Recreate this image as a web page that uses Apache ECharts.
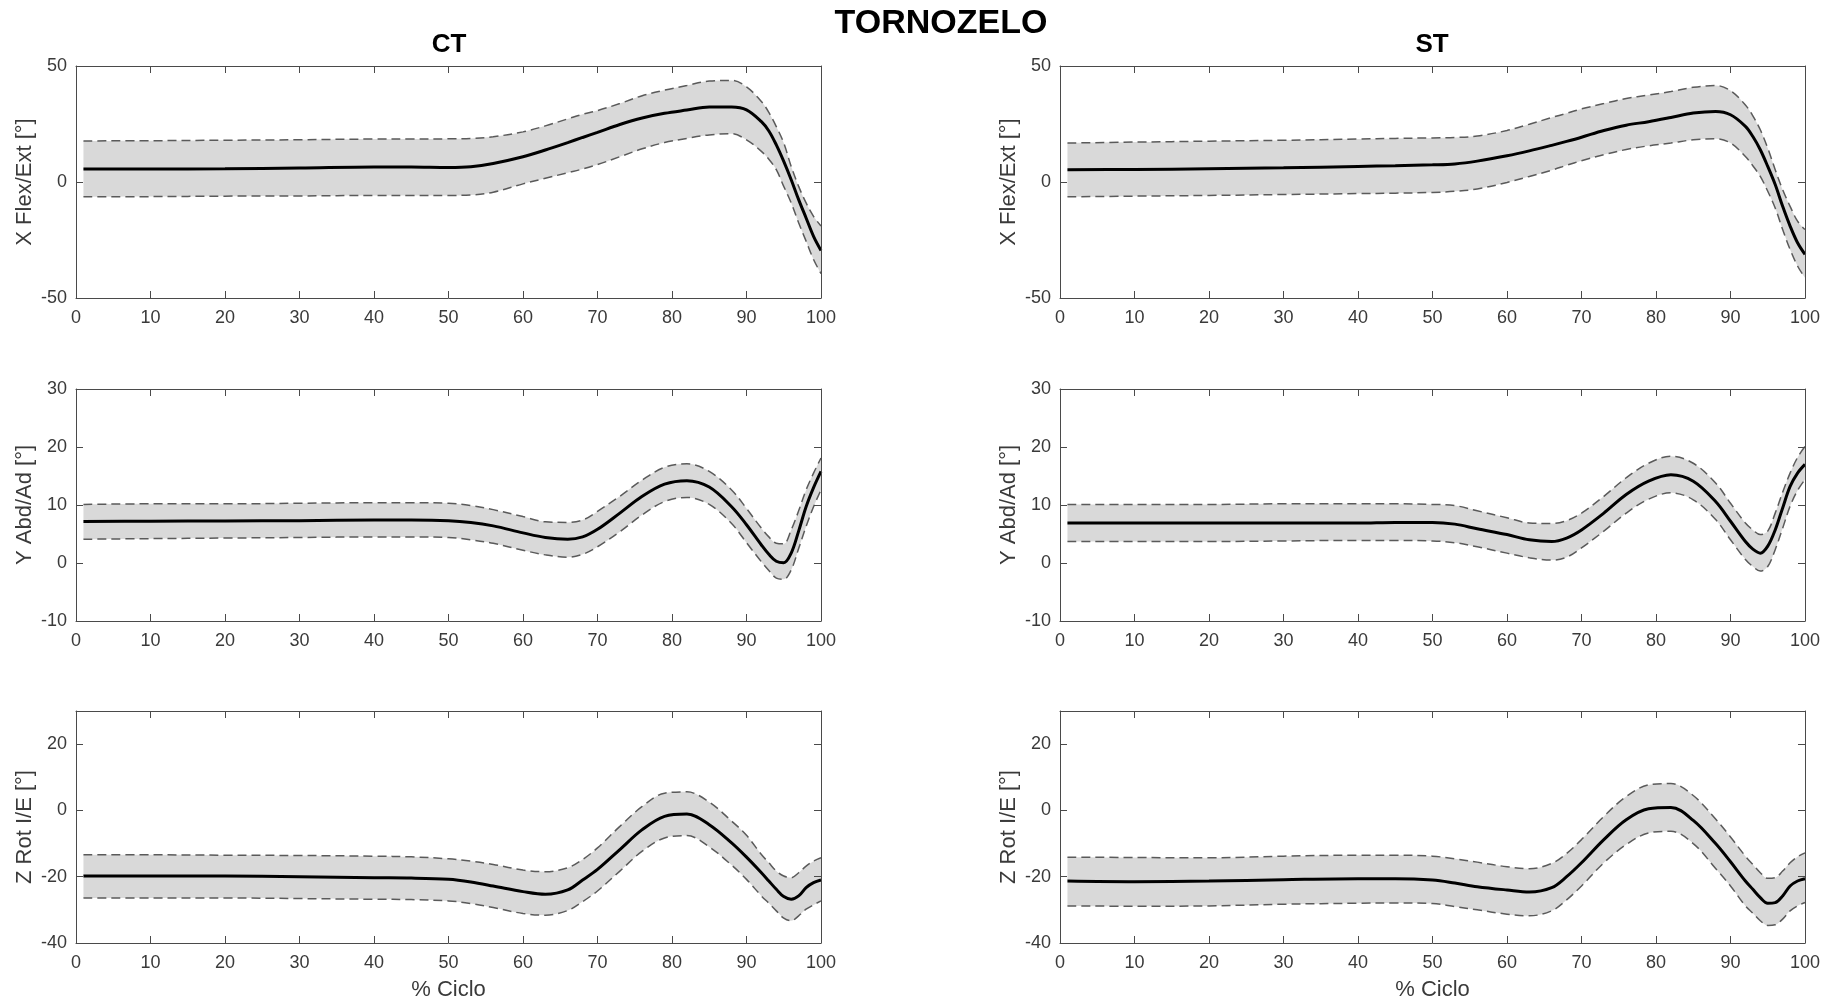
<!DOCTYPE html>
<html><head><meta charset="utf-8">
<script src="https://cdn.jsdelivr.net/npm/echarts@6/dist/echarts.min.js"></script>
<style>html,body{margin:0;padding:0;background:#fff}#c{width:1833px;height:1005px}</style>
</head><body><div id="c"></div>
<script>
// % gait cycle sample positions (shared by all panels)
const X = [1,10,20,30,40,45,50,53,56,60,63,66,68,70,73,76,79,82,85,88,90,92,93,94,95,96,97,98,99,100];

// CT - X Flex/Ext
const ctFlexMean = [5.6,5.6,5.7,6.0,6.5,6.5,6.3,6.6,8.0,10.9,13.8,17.0,19.2,21.4,24.8,27.6,29.6,31.0,32.3,32.3,31.1,26.0,22.0,16.0,8.9,1.0,-7.6,-15.5,-23.4,-29.5];
const ctFlexUp   = [17.7,17.8,18.0,18.2,18.5,18.5,18.6,18.8,19.5,21.6,24.2,27.2,29.2,30.8,33.8,37.2,39.6,41.6,43.5,43.8,41.0,34.7,30.0,23.9,16.8,6.7,-1.9,-9.0,-14.8,-19.0];
const ctFlexLo   = [-6.4,-6.3,-6.1,-6.0,-5.8,-5.8,-5.8,-5.6,-4.4,-0.8,1.6,4.0,5.6,7.5,10.9,14.3,17.0,18.8,20.3,20.8,18.2,13.2,9.8,5.3,-1.9,-9.0,-17.6,-25.5,-33.4,-39.5];
// ST - X Flex/Ext
const stFlexMean = [5.3,5.4,5.7,6.1,6.7,7.0,7.4,7.8,9.0,11.3,13.4,15.8,17.5,19.3,22.2,24.5,26.0,27.8,29.7,30.4,29.0,24.0,19.6,13.9,6.7,-1.1,-10.5,-19.0,-26.2,-31.2];
const stFlexUp   = [16.8,17.2,17.6,18.0,18.5,18.8,19.0,19.2,19.8,22.2,24.9,27.8,29.6,31.5,33.8,36.0,37.5,39.0,40.8,41.6,39.4,33.2,28.5,22.5,14.6,5.3,-3.3,-10.5,-16.9,-20.5];
const stFlexLo   = [-6.4,-6.1,-5.8,-5.4,-5.0,-4.8,-4.5,-4.0,-3.0,-0.2,2.4,5.1,7.2,9.2,11.8,14.0,15.6,16.8,18.2,18.6,16.8,11.0,7.0,2.4,-4.0,-11.2,-20.5,-29.1,-36.2,-41.3];
// CT - Y Abd/Ad
const ctAbdMean = [7.15,7.2,7.25,7.3,7.4,7.4,7.3,7.0,6.4,5.2,4.4,4.1,4.5,5.8,8.6,11.5,13.6,14.2,13.1,9.7,6.6,3.1,1.5,0.3,0.05,1.7,5.5,9.7,13.0,15.8];
const ctAbdUp   = [10.1,10.2,10.2,10.3,10.4,10.4,10.3,9.9,9.2,8.0,7.1,7.0,7.4,8.9,11.5,14.3,16.5,17.1,15.8,12.6,9.4,6.0,4.5,3.4,3.3,5.7,9.0,12.6,15.5,18.1];
const ctAbdLo   = [4.1,4.2,4.3,4.4,4.5,4.5,4.4,4.0,3.4,2.2,1.4,1.0,1.5,2.8,5.4,8.3,10.6,11.3,10.1,6.8,3.5,0.2,-1.3,-2.6,-2.8,-1.2,2.5,6.3,9.7,12.6];
// ST - Y Abd/Ad
const stAbdMean = [6.9,6.9,6.9,6.9,6.9,7.0,7.0,6.7,5.9,4.9,4.0,3.7,4.3,5.7,8.6,11.8,14.1,15.2,14.1,10.6,7.2,3.7,2.4,1.7,2.9,5.7,9.5,13.2,15.5,17.0];
const stAbdUp   = [10.1,10.1,10.1,10.2,10.2,10.2,10.1,9.9,9.0,7.8,6.9,6.8,7.3,8.6,11.5,14.7,17.2,18.4,17.2,13.8,10.3,6.9,5.7,4.9,5.5,8.6,12.2,15.5,18.2,20.1];
const stAbdLo   = [3.7,3.7,3.7,3.8,3.9,3.9,3.8,3.5,2.8,1.7,0.9,0.5,1.0,2.6,5.5,8.6,11.0,12.1,10.9,7.5,4.0,0.6,-0.6,-1.4,-0.6,2.3,6.0,9.8,12.5,14.4];
// CT - Z Rot I/E
const ctRotMean = [-19.8,-19.8,-19.8,-20.0,-20.3,-20.4,-20.8,-21.6,-22.8,-24.5,-25.3,-24.0,-21.0,-17.8,-11.8,-5.8,-1.8,-1.1,-4.3,-9.8,-14.1,-18.8,-21.3,-23.8,-26.0,-26.8,-25.8,-23.3,-21.8,-21.0];
const ctRotUp   = [-13.4,-13.4,-13.5,-13.6,-13.8,-14.0,-14.6,-15.3,-16.3,-18.0,-18.5,-17.3,-14.8,-11.3,-4.8,1.2,5.2,5.6,2.5,-3.2,-7.5,-13.3,-15.8,-18.3,-19.8,-20.3,-18.8,-16.8,-15.3,-14.3];
const ctRotLo   = [-26.4,-26.4,-26.4,-26.6,-26.8,-26.9,-27.3,-28.1,-29.3,-31.1,-31.6,-30.2,-27.5,-24.3,-18.3,-12.3,-8.3,-7.6,-11.0,-16.5,-20.8,-25.8,-28.0,-30.3,-32.5,-33.3,-31.8,-29.8,-28.5,-27.3];
// ST - Z Rot I/E
const stRotMean = [-21.3,-21.5,-21.3,-20.9,-20.6,-20.6,-21.0,-21.9,-23.0,-24.0,-24.6,-23.3,-20.0,-15.8,-8.8,-2.8,0.5,0.9,-3.0,-10.0,-15.5,-21.3,-23.8,-26.3,-28.0,-27.8,-25.8,-22.8,-21.3,-20.6];
const stRotUp   = [-14.1,-14.2,-14.3,-13.8,-13.5,-13.5,-13.8,-14.6,-15.6,-17.0,-17.6,-16.0,-13.0,-8.8,-1.8,4.2,7.7,8.1,4.5,-2.6,-8.0,-13.8,-16.3,-18.8,-20.5,-20.3,-18.3,-15.8,-14.0,-12.8];
const stRotLo   = [-28.8,-28.9,-28.8,-28.3,-28.0,-27.9,-28.1,-29.0,-30.0,-31.3,-31.8,-30.3,-27.0,-22.8,-15.8,-10.3,-6.8,-6.3,-10.0,-17.5,-22.8,-28.8,-31.0,-33.3,-34.7,-34.5,-32.8,-30.3,-28.8,-27.8];

// axis settings per row
const rowNames = ['X Flex/Ext [°]', 'Y Abd/Ad [°]', 'Z Rot I/E [°]'];
const rowMin = [-50, -10, -40];
const rowMax = [50, 30, 30];
const rowInterval = [50, 10, 20];
const xTitle = '% Ciclo';
const mainTitle = 'TORNOZELO';
const colTitles = ['CT', 'ST'];

const panels = [
  {row:0,col:0,mean:ctFlexMean,up:ctFlexUp,lo:ctFlexLo},
  {row:0,col:1,mean:stFlexMean,up:stFlexUp,lo:stFlexLo},
  {row:1,col:0,mean:ctAbdMean,up:ctAbdUp,lo:ctAbdLo},
  {row:1,col:1,mean:stAbdMean,up:stAbdUp,lo:stAbdLo},
  {row:2,col:0,mean:ctRotMean,up:ctRotUp,lo:ctRotLo},
  {row:2,col:1,mean:stRotMean,up:stRotUp,lo:stRotLo}
];

const FONT = "'Liberation Sans', Arial, Helvetica, sans-serif";
const AXC = '#4a4a4a';
const LBC = '#3a3a3a';
const gridLeft = [76, 1060];
const gridTop = [66, 389, 711];
const gridW = 745, gridH = 232;

const grid = [], xAxis = [], yAxis = [], series = [];
const lineCommon = {onZero:false, lineStyle:{color:AXC, width:1}};
const tickCommon = {inside:true, length:7, lineStyle:{color:AXC, width:1}};

panels.forEach((p, i) => {
  grid.push({left:gridLeft[p.col], top:gridTop[p.row], width:gridW, height:gridH, containLabel:false, show:false});
  const min = rowMin[p.row], max = rowMax[p.row], itv = rowInterval[p.row];
  xAxis.push({
    type:'value', gridIndex:i, position:'bottom', min:0, max:100, interval:10, z:5,
    axisLine:lineCommon, axisTick:tickCommon, splitLine:{show:false},
    axisLabel:{margin:11, fontSize:18, color:LBC, fontFamily:FONT},
    name: p.row === 2 ? xTitle : '', nameLocation:'middle', nameGap:36,
    nameTextStyle:{fontSize:22, color:LBC, fontFamily:FONT}
  });
  xAxis.push({
    type:'value', gridIndex:i, position:'top', min:0, max:100, interval:10, z:5,
    axisLine:lineCommon, axisTick:tickCommon, splitLine:{show:false}, axisLabel:{show:false}
  });
  yAxis.push({
    type:'value', gridIndex:i, position:'left', min:min, max:max, interval:itv, z:5,
    axisLine:lineCommon, axisTick:tickCommon, splitLine:{show:false},
    axisLabel:{margin:9, fontSize:18, color:LBC, fontFamily:FONT,
      formatter: v => ((v - min) % itv === 0 ? String(v) : '')},
    name: rowNames[p.row], nameLocation:'middle', nameRotate:90, nameGap:40,
    nameTextStyle:{fontSize:22, color:LBC, fontFamily:FONT}
  });
  yAxis.push({
    type:'value', gridIndex:i, position:'right', min:min, max:max, interval:itv, z:5,
    axisLine:lineCommon, axisTick:tickCommon, splitLine:{show:false}, axisLabel:{show:false}
  });
  const xi = 2*i, yi = 2*i;
  const sm = 0.35;
  // band: stacked (value first so that the value dimension is the stacked one)
  series.push({
    type:'line', xAxisIndex:xi, yAxisIndex:yi, stack:'band'+i, stackStrategy:'all',
    encode:{x:1, y:0},
    data: X.map((x,k)=>[p.lo[k], x]), smooth:sm, symbol:'none', silent:true,
    lineStyle:{opacity:0}
  });
  series.push({
    type:'line', xAxisIndex:xi, yAxisIndex:yi, stack:'band'+i, stackStrategy:'all',
    encode:{x:1, y:0},
    data: X.map((x,k)=>[p.up[k] - p.lo[k], x]), smooth:sm, symbol:'none', silent:true,
    lineStyle:{opacity:0}, areaStyle:{color:'#d9d9d9', opacity:1}
  });
  [p.up, p.lo].forEach(arr => series.push({
    type:'line', xAxisIndex:xi, yAxisIndex:yi,
    data: X.map((x,k)=>[x, arr[k]]), smooth:sm, symbol:'none', silent:true,
    lineStyle:{color:'#5a5a5a', width:1.5, type:[9,5]}
  }));
  series.push({
    type:'line', xAxisIndex:xi, yAxisIndex:yi,
    data: X.map((x,k)=>[x, p.mean[k]]), smooth:sm, symbol:'none', silent:true,
    lineStyle:{color:'#000', width:3}
  });
});

const graphic = [
  {type:'text', x:941, y:24, style:{text:mainTitle, align:'center', verticalAlign:'middle', fontSize:34, fontWeight:'bold', fontFamily:FONT, fill:'#000'}},
  {type:'text', x:449, y:45, style:{text:colTitles[0], align:'center', verticalAlign:'middle', fontSize:26, fontWeight:'bold', fontFamily:FONT, fill:'#000'}},
  {type:'text', x:1432, y:45, style:{text:colTitles[1], align:'center', verticalAlign:'middle', fontSize:26, fontWeight:'bold', fontFamily:FONT, fill:'#000'}}
];

const chart = echarts.init(document.getElementById('c'), null, {renderer:'canvas'});
chart.setOption({animation:false, backgroundColor:'#fff', grid, xAxis, yAxis, series, graphic});
</script>
</body></html>
